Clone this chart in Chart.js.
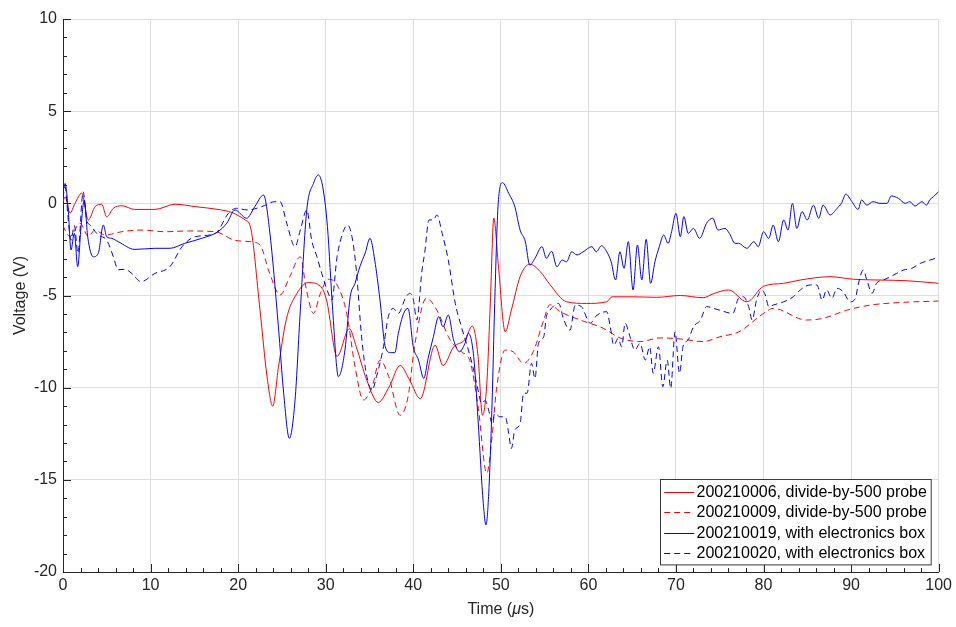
<!DOCTYPE html>
<html>
<head>
<meta charset="utf-8">
<title>Voltage vs time</title>
<script src="https://cdn.jsdelivr.net/npm/chart.js@4.4.1/dist/chart.umd.min.js"></script>
<style>
  html, body { margin: 0; padding: 0; background: #fff; }
  canvas { display: block; }
</style>
</head>
<body>
<canvas id="c" width="956" height="627"></canvas>
<script>
// values (time in us, voltage in V)
var t006 = [0, 0.23, 0.8, 1.37, 2.14, 2.89, 3.66, 4.42, 4.99, 5.75, 6.7, 8.2, 10.5, 12.8, 15.1, 17.7, 19.3, 20.8, 21.4, 22.5,
  23.3, 23.95, 24.6, 25.5, 26.7, 28.0, 29.4, 30.1, 31.3, 32.7, 33.5, 34.7, 36.0, 37.3, 38.5, 39.6, 40.8, 42.5, 43.4, 44.6,
  45.9, 46.75, 47.4, 47.9, 48.4, 48.8, 49.2, 49.7, 50.5, 51.2, 52.2, 53.3, 54.5, 55.6, 57.5, 59.8, 62.1, 62.7, 65.1, 67.8,
  70.5, 73.1, 74.3, 76.0, 78.1, 80.0, 82.3, 84.2, 87.6, 90.3, 93.3, 96.4, 100];
var v006 = [0.1, 0.35, -0.53, 0, 0.55, -0.9, -0.18, -0.05, -0.73, -0.27, -0.13, -0.33, -0.33, -0.05, -0.18, -0.33, -0.5, -0.9, -1.27, -5.8,
  -9.4, -11.0, -8.9, -6.3, -4.9, -4.3, -4.5, -5.25, -8.3, -6.8, -7.8, -9.6, -10.8, -9.9, -8.8, -9.6, -10.6, -7.7, -8.8, -7.8,
  -7.4, -6.66, -8.3, -11.5, -9.77, -5.4, -0.8, -3.26, -6.97, -5.8, -3.98, -3.3, -3.7, -4.4, -5.34, -5.43, -5.34, -5.07, -5.07, -5.1,
  -5.0, -5.12, -4.9, -4.7, -5.34, -4.5, -4.34, -4.16, -3.98, -4.12, -4.16, -4.2, -4.34];

var t009 = [0, 0.23, 0.8, 1.95, 2.9, 3.65, 4.8, 6.7, 9.0, 11.65, 14.3, 17.4, 19.6, 21.4, 22.5, 23.6, 24.8, 25.9, 27.1, 27.8,
  28.6, 29.4, 30.3, 31.3, 32.4, 33.35, 34.3, 35.3, 36.2, 37.2, 38.5, 39.4, 40.2, 41.5, 42.7, 44.2, 45.5, 46.5, 47.4, 48.4,
  49.0, 49.5, 50.5, 51.4, 52.6, 53.7, 54.9, 55.6, 56.8, 59.05, 61.7, 63.6, 65.9, 68.2, 70.5, 73.1, 75.0, 77.2, 80.0, 81.1,
  84.9, 86.8, 89.5, 92.2, 96.0, 100];
var v009 = [-1.2, -1.45, -1.8, -1.08, -1.8, -1.45, -1.72, -1.54, -1.45, -1.54, -1.5, -1.54, -2.0, -2.08, -2.26, -3.8, -4.97, -3.98, -2.9, -4.7,
  -5.97, -4.88, -4.12, -4.43, -5.97, -8.86, -10.67, -9.95, -8.5, -9.4, -11.5, -10.5, -7.6, -5.15, -5.8, -7.4, -8.05, -8.6, -11.0, -14.65,
  -12.66, -10.1, -7.96, -8.05, -8.68, -8.05, -6.33, -5.5, -5.88, -6.33, -6.78, -7.3, -7.5, -7.3, -7.36, -7.5, -7.24, -6.97, -5.97, -5.7,
  -6.33, -6.24, -5.8, -5.52, -5.37, -5.3];

var t019 = [0, 0.23, 0.6, 0.91, 1.29, 1.68, 2.06, 2.43, 2.82, 3.46, 4.03, 4.6, 4.99, 5.56, 6.3, 8.2, 10.5, 12.2, 13.9, 15.84,
  17.7, 18.7, 19.64, 20.97, 21.9, 22.9, 23.6, 24.6, 25.2, 25.85, 26.5, 27.1, 27.84, 28.6, 29.16, 29.66, 30.2, 30.8, 31.45, 32.2,
  32.8, 33.35, 33.9, 34.5, 35.06, 35.6, 36.2, 36.8, 37.4, 37.9, 38.3, 38.9, 39.4, 40.0, 40.6, 41.2, 41.7, 42.3, 42.9, 43.4,
  44.0, 44.6, 45.3, 45.9, 46.3, 46.9, 47.4, 48.0, 48.3, 48.6, 49.0, 49.3, 49.7, 50.2, 50.9, 51.6, 52.2, 52.8, 53.3, 53.9,
  54.7, 55.2, 55.8, 56.4, 57.0, 57.5, 58.1, 58.7, 59.4, 60.4, 60.9, 61.5, 62.1, 62.6, 63.1, 63.6, 64.07, 64.56, 65.1, 65.6,
  66.1, 66.6, 67.1, 67.6, 68.1, 68.6, 69.1, 69.5, 70.0, 70.5, 70.9, 71.4, 72.0, 72.7, 73.5, 74.2, 74.8, 75.6, 76.1, 76.75,
  77.15, 78.1, 78.9, 79.4, 80.0, 80.6, 81.1, 81.7, 82.3, 82.8, 83.3, 83.8, 84.4, 85.0, 85.7, 86.3, 86.8, 87.6, 88.4, 88.9,
  89.4, 90.1, 90.8, 91.2, 91.8, 92.5, 93.3, 94.1, 94.6, 95.4, 96.2, 96.7, 97.3, 98.1, 98.6, 99.0, 99.4, 100];
var v019 = [0.6, 1.08, -0.36, -2.53, -1.63, -3.44, -1.27, 0.18, -1.81, -2.9, -2.71, -1.18, -1.81, -1.9, -2.08, -2.5, -2.44, -2.44, -2.17, -1.9,
  -1.54, -1.08, -0.36, -0.81, -0.18, 0.45, -1.5, -6.7, -10.3, -12.75, -10.67, -5.8, -0.36, 1.08, 1.54, 0.9, -1.27, -5.8, -9.4, -7.96,
  -5.07, -4.34, -3.44, -2.71, -1.9, -3.08, -5.25, -7.78, -8.1, -8.1, -7.05, -5.97, -5.7, -7.78, -8.5, -9.5, -8.4, -7.24, -6.15, -6.7,
  -6.06, -7.4, -8.05, -7.6, -7.05, -8.3, -11.76, -16.3, -17.45, -15.9, -10.85, -5.43, 0, 1.12, 0.54, -0.18, -1.45, -2.08, -3.35, -2.98,
  -2.35, -2.98, -2.6, -3.44, -3.08, -3.17, -2.63, -2.8, -2.63, -2.35, -2.63, -2.3, -2.63, -3.17, -4.16, -2.63, -3.53, -2.08, -4.7, -2.26,
  -4.16, -1.95, -4.34, -3.17, -2.35, -1.72, -2.17, -1.54, -0.54, -1.81, -0.72, -1.63, -1.36, -1.9, -1.08, -0.81, -1.45, -1.36, -1.63, -2.17,
  -2.17, -2.44, -2.08, -2.35, -1.54, -1.9, -1.18, -2.08, -0.9, -1.45, 0, -1.36, -0.45, -0.9, -0.1, -0.81, -0.1, -0.63, -0.27, 0,
  0.5, 0.09, -0.33, 0.18, -0.1, 0.09, 0, 0, 0.4, 0.27, 0, 0.09, -0.15, 0.09, -0.1, 0.2, 0.36, 0.63];

var t020 = [0, 0.23, 0.6, 0.9, 1.3, 1.7, 2.3, 2.7, 3.1, 4.03, 4.99, 5.75, 6.3, 7.1, 7.85, 8.9, 10.5, 12.2, 13.6, 15.1,
  17.4, 18.9, 19.8, 21.1, 22.7, 24.2, 24.8, 25.55, 26.5, 27.1, 27.84, 28.4, 29.0, 29.55, 30.3, 30.7, 31.3, 32.0, 32.5, 33.0,
  33.5, 34.1, 34.7, 35.3, 35.8, 36.6, 37.15, 37.7, 38.3, 39.1, 39.6, 40.0, 40.4, 41.0, 41.3, 41.8, 42.3, 42.7, 43.3, 44.0,
  44.8, 45.5, 46.3, 46.9, 47.4, 47.8, 48.2, 48.6, 49.0, 49.3, 49.9, 50.5, 50.9, 51.2, 51.6, 52.2, 52.6, 53.0, 53.5, 53.9,
  54.3, 54.9, 55.2, 55.6, 56.6, 57.2, 57.9, 58.5, 59.2, 60.2, 61.0, 62.1, 62.5, 62.9, 63.4, 63.8, 64.2, 64.7, 65.3, 65.9,
  66.5, 67.0, 67.4, 68.0, 68.5, 69.0, 69.4, 69.9, 70.4, 70.8, 71.4, 72.0, 72.8, 73.5, 74.3, 75.0, 76.5, 77.15, 77.7, 78.3,
  78.7, 79.2, 79.8, 80.2, 80.6, 81.1, 82.3, 83.4, 84.2, 85.3, 86.1, 86.7, 87.2, 87.8, 88.4, 89.1, 89.9, 90.5, 90.8, 91.4,
  91.8, 92.4, 92.9, 93.7, 94.5, 95.2, 96.0, 96.9, 97.9, 99.0, 100];
var v020 = [0.3, 0.9, -0.9, -2.0, -1.2, -2.7, 0.63, -0.9, -1.18, -1.72, -2.0, -2.9, -3.6, -3.58, -3.8, -4.25, -3.8, -3.44, -2.35, -1.81,
  -1.63, -0.54, -0.27, -0.36, -0.18, 0.09, 0.09, -1.08, -2.35, -1.45, -0.36, -2.0, -2.9, -3.8, -4.88, -5.25, -2.9, -1.54, -1.18, -1.81,
  -3.62, -7.24, -9.4, -10.13, -9.4, -7.78, -6.15, -5.7, -5.97, -5.15, -4.88, -5.2, -6.33, -3.62, -2.71, -0.9, -0.9, -0.63, -1.63, -3.08,
  -5.43, -6.7, -7.96, -9.05, -10.13, -10.85, -10.7, -11.2, -11.94, -11.4, -11.58, -11.58, -12.48, -13.3, -12.3, -11.94, -10.3, -10.3, -8.68, -9.5,
  -7.6, -7.24, -6.15, -5.8, -5.43, -6.33, -6.88, -5.52, -5.6, -6.5, -6.06, -5.88, -6.7, -7.7, -7.33, -7.78, -6.5, -7.15, -7.96, -7.6,
  -8.5, -7.78, -9.22, -7.78, -9.95, -8.5, -10.04, -6.97, -9.22, -7.78, -7.4, -6.7, -6.33, -5.6, -5.7, -5.8, -5.97, -5.15, -5.07, -5.6,
  -6.33, -5.25, -4.7, -4.97, -5.6, -5.52, -5.34, -5.07, -4.7, -4.43, -4.43, -5.25, -4.7, -5.15, -4.61, -4.8, -5.34, -5.15, -4.43, -3.62,
  -4.16, -4.88, -4.34, -4.16, -3.98, -3.8, -3.62, -3.53, -3.26, -3.08, -2.93];

var legendLabels = [
  '200210006, divide-by-500 probe',
  '200210009, divide-by-500 probe',
  '200210019, with electronics box',
  '200210020, with electronics box'
];
var xTicks = [0, 10, 20, 30, 40, 50, 60, 70, 80, 90, 100];
var yTicks = [-20, -15, -10, -5, 0, 5, 10];

var AXIS_COLOR = '#262626';
var GRID_COLOR = '#dfdfdf';
var FONT = '"Liberation Sans", Arial, Helvetica, sans-serif';

function pairs(ts, vs) {
  return ts.map(function(t, i) { return { x: t, y: vs[i] }; });
}

var series = [
  { t: t006, v: v006, color: '#ff0000', dash: [] },
  { t: t009, v: v009, color: '#ff0000', dash: [6, 4] },
  { t: t019, v: v019, color: '#0000ff', dash: [] },
  { t: t020, v: v020, color: '#0000ff', dash: [6, 4] }
];

// MATLAB-style inward ticks, legend box and x label
var matlabLook = {
  id: 'matlabLook',
  afterDraw: function(chart) {
    var ctx = chart.ctx, a = chart.chartArea;
    var xs = chart.scales.x, ys = chart.scales.y;
    var v, p, len;
    ctx.save();
    ctx.strokeStyle = AXIS_COLOR;
    ctx.lineWidth = 1;
    ctx.beginPath();
    for (v = 0; v <= 100; v += 2) {
      p = Math.round(xs.getPixelForValue(v)) + 0.5;
      len = v % 10 === 0 ? 8 : 4;
      ctx.moveTo(p, a.bottom);
      ctx.lineTo(p, a.bottom - len);
    }
    for (v = -20; v <= 10; v += 1) {
      p = Math.round(ys.getPixelForValue(v)) + 0.5;
      len = v % 5 === 0 ? 8 : 4;
      ctx.moveTo(a.left, p);
      ctx.lineTo(a.left + len, p);
    }
    ctx.stroke();

    // x label with italic mu
    var cx = (a.left + a.right) / 2, cy = 610;
    var fN = '16px ' + FONT, fI = 'italic 16px ' + FONT;
    ctx.font = fN; var w1 = ctx.measureText('Time (').width, w3 = ctx.measureText('s)').width;
    ctx.font = fI; var w2 = ctx.measureText('\u03bc').width;
    var x0 = cx - (w1 + w2 + w3) / 2;
    ctx.fillStyle = AXIS_COLOR;
    ctx.textBaseline = 'middle';
    ctx.textAlign = 'left';
    ctx.font = fN; ctx.fillText('Time (', x0, cy);
    ctx.font = fI; ctx.fillText('\u03bc', x0 + w1, cy);
    ctx.font = fN; ctx.fillText('s)', x0 + w1 + w2, cy);

    // legend
    ctx.font = '16px ' + FONT;
    var textW = 0;
    legendLabels.forEach(function(l) { textW = Math.max(textW, ctx.measureText(l).width); });
    var rowH = 20.2, boxW = 3.7 + 30 + 2.3 + textW + 4.3, boxH = rowH * legendLabels.length + 4.6;
    var bx = Math.round(a.right - 7.5 - boxW) + 0.5, by = Math.round(a.bottom - 7.5 - boxH) + 0.5;
    ctx.fillStyle = '#ffffff';
    ctx.fillRect(bx, by, boxW, boxH);
    ctx.strokeStyle = '#3a3a3a';
    ctx.strokeRect(bx, by, boxW, boxH);
    legendLabels.forEach(function(l, i) {
      var s = series[i], ry = by + 2.6 + rowH * (i + 0.5);
      ctx.strokeStyle = s.color;
      ctx.setLineDash(s.dash);
      ctx.beginPath();
      ctx.moveTo(bx + 3.7, Math.round(ry) + 0.5);
      ctx.lineTo(bx + 33.7, Math.round(ry) + 0.5);
      ctx.stroke();
      ctx.setLineDash([]);
      ctx.fillStyle = '#000000';
      ctx.fillText(l, bx + 36, ry + 0.5);
    });
    ctx.restore();
  }
};

new Chart(document.getElementById('c').getContext('2d'), {
  type: 'line',
  data: {
    datasets: series.map(function(s, i) {
      return {
        label: legendLabels[i],
        data: pairs(s.t, s.v),
        borderColor: s.color,
        borderWidth: 1,
        borderDash: s.dash,
        pointRadius: 0,
        fill: false,
        cubicInterpolationMode: 'monotone',
        order: series.length - i
      };
    })
  },
  options: {
    responsive: false,
    animation: false,
    devicePixelRatio: 1,
    layout: { padding: { left: 0, top: 19, right: 17, bottom: 0 } },
    plugins: { legend: { display: false }, tooltip: { enabled: false } },
    scales: {
      x: {
        type: 'linear', min: 0, max: 100,
        afterBuildTicks: function(s) { s.ticks = xTicks.map(function(v) { return { value: v }; }); },
        afterFit: function(s) { s.height = 55; },
        ticks: { font: { family: FONT, size: 16 }, color: AXIS_COLOR, padding: 4, maxRotation: 0, autoSkip: false },
        grid: { color: GRID_COLOR, drawTicks: false },
        border: { color: AXIS_COLOR }
      },
      y: {
        type: 'linear', min: -20, max: 10,
        afterBuildTicks: function(s) { s.ticks = yTicks.map(function(v) { return { value: v }; }); },
        afterFit: function(s) { s.width = 63; },
        ticks: { font: { family: FONT, size: 16 }, color: AXIS_COLOR, padding: 6, autoSkip: false },
        grid: { color: GRID_COLOR, drawTicks: false },
        border: { color: AXIS_COLOR },
        title: { display: true, text: 'Voltage (V)', font: { family: FONT, size: 16 }, color: AXIS_COLOR, padding: { top: 11, bottom: 0 } }
      }
    }
  },
  plugins: [matlabLook]
});
</script>
</body>
</html>
